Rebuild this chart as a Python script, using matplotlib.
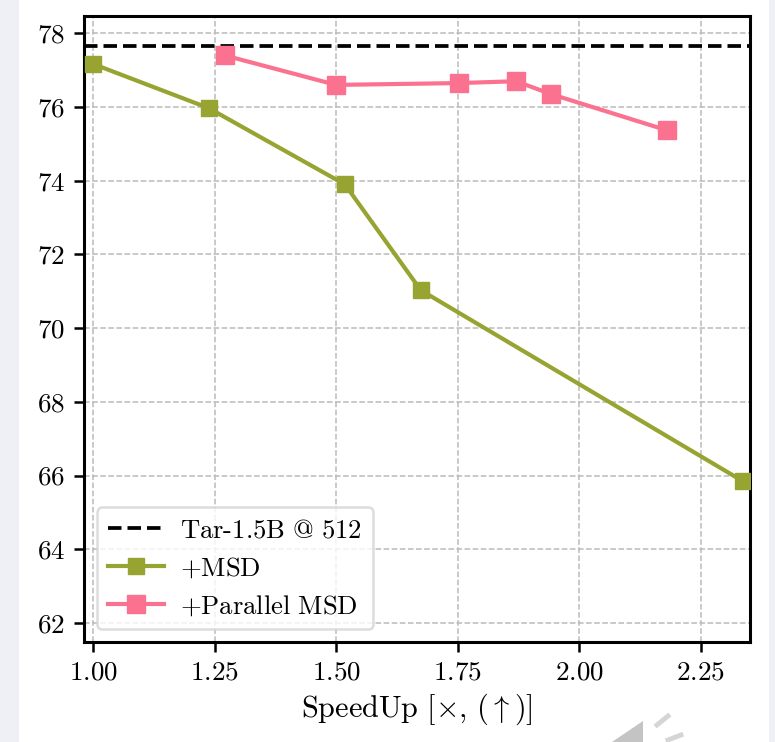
import matplotlib
matplotlib.use("Agg")
import matplotlib.pyplot as plt
from matplotlib.patches import Rectangle, Polygon

plt.rcParams['mathtext.fontset'] = 'cm'
plt.rcParams['font.family'] = ['cmr10', 'DejaVu Serif']
plt.rcParams['axes.formatter.use_mathtext'] = True
plt.rcParams['axes.unicode_minus'] = False

baseline_value = 77.65
baseline_label = r'$\mathrm{Tar}$-$\mathrm{1.5B\ @\ 512}$'
msd_x = [1.00, 1.238, 1.518, 1.674, 2.336]
msd_y = [77.17, 75.97, 73.90, 71.03, 65.85]
msd_label = r'$\mathrm{+MSD}$'
par_x = [1.271, 1.50, 1.752, 1.87, 1.942, 2.18]
par_y = [77.40, 76.60, 76.65, 76.70, 76.35, 75.37]
par_label = r'$\mathrm{+Parallel\ MSD}$'
x_ticks = [1.00, 1.25, 1.50, 1.75, 2.00, 2.25]
y_ticks = [62, 64, 66, 68, 70, 72, 74, 76, 78]
x_label = r'$\mathrm{SpeedUp}\ [\times,\,(\uparrow)]$'

W, H = 775, 742
fig = plt.figure(figsize=(W/100, H/100), dpi=100, facecolor='white')
fig.add_artist(Rectangle((0, 0), 19/W, 1, transform=fig.transFigure, fc='#eef0f5', ec='none'))
fig.add_artist(Rectangle((769/W, 0), 6/W, 1, transform=fig.transFigure, fc='#eef0f5', ec='none'))
ax = fig.add_axes([84/W, 1-642/H, (750-84)/W, (642-16)/H])
ax.set_zorder(2)

olive = '#97a431'
pink = '#fb7290'
ax.axhline(baseline_value, color='black', ls=(0, (3.6, 1.6)), lw=2.7, label=baseline_label, zorder=3)
ax.plot(msd_x, msd_y, color=olive, lw=3.0, marker='s', ms=11.5, label=msd_label, zorder=4)
ax.plot(par_x, par_y, color=pink, lw=3.0, marker='s', ms=12.5, label=par_label, zorder=5)

ax.set_xlim(0.9815, 2.351)
ax.set_ylim(61.485, 78.47)
ax.set_xticks(x_ticks)
ax.set_xticklabels([rf'$\mathrm{{{t:.2f}}}$' for t in x_ticks])
ax.set_yticks(y_ticks)
ax.set_yticklabels([rf'$\mathrm{{{t}}}$' for t in y_ticks])
ax.tick_params(labelsize=19.5, width=1.8, length=7.5, pad=6)
ax.grid(True, color='#bbbbbb', ls='--', lw=1.1)
ax.set_axisbelow(True)
for s in ax.spines.values():
    s.set_linewidth(2.2)
ax.set_xlabel(x_label, fontsize=21.8, labelpad=5)
leg = ax.legend(loc='lower left', fontsize=19.2, frameon=True, framealpha=0.8, borderaxespad=0.47,
                labelspacing=0.5, handlelength=2.1, handletextpad=0.62, borderpad=0.42)
leg.get_frame().set_linewidth(1.8)
leg.get_frame().set_edgecolor('#d4d4d4')

# speaker watermark at the bottom edge
gr = '#c4c4c4'
fig.add_artist(Polygon([(612/W, 1-742/H), (643/W, 1-721/H), (643/W, 1-742/H)], transform=fig.transFigure, fc=gr, ec='none'))
fig.add_artist(plt.Line2D([657/W, 668/W], [1-725/H, 1-716/H], transform=fig.transFigure, color='#d5d5d5', lw=3.5))
fig.add_artist(plt.Line2D([668/W, 681/W], [1-740/H, 1-735/H], transform=fig.transFigure, color='#d5d5d5', lw=3.5))
fig.savefig('out.png', dpi=100)
